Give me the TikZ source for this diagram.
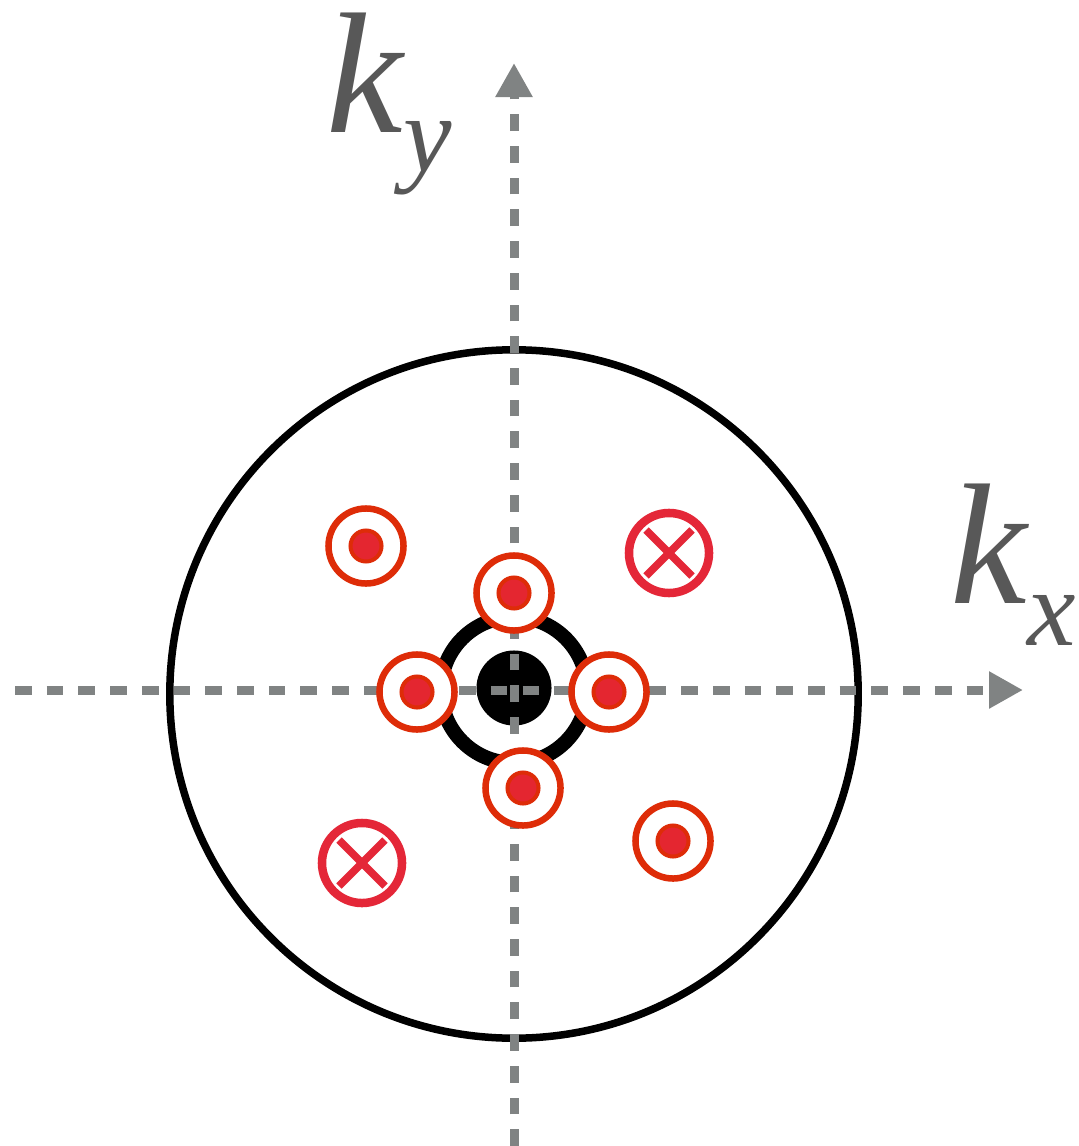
\documentclass[tikz,border=0pt]{standalone}
\usepackage{fontspec}
\setmainfont{Liberation Serif}
\usetikzlibrary{arrows.meta}
\definecolor{ringred}{RGB}{222,44,8}
\definecolor{dotred}{RGB}{228,38,48}
\definecolor{crossred}{RGB}{228,39,56}
\definecolor{axisgray}{RGB}{128,131,131}
\definecolor{labelgray}{RGB}{88,88,88}
\tikzset{
  axis/.style={draw=axisgray, line width=0.09cm, dash pattern=on 0.167cm off 0.15cm,
    -{Triangle[length=0.34cm,width=0.35cm,fill=axisgray,sep=0pt]}},
  ring/.style={circle, draw=ringred, fill=white, line width=0.065cm, minimum size=0.75cm, inner sep=0pt},
  reddot/.style={circle, draw=ringred, fill=dotred, line width=0.04cm, minimum size=0.31cm, inner sep=0pt},
  crossring/.style={circle, draw=crossred, fill=white, line width=0.085cm, minimum size=0.8cm, inner sep=0pt},
  crossline/.style={draw=crossred, line width=0.075cm},
  label/.style={text=labelgray, inner sep=0pt, anchor=base west},
}
\newcommand{\klab}[2]{\fontsize{49}{49}\selectfont\itshape k\raisebox{-#2}{\fontsize{31}{31}\selectfont #1}}
\begin{document}
\begin{tikzpicture}[x=0.01cm,y=-0.01cm]
\useasboundingbox (0,0) rectangle (1078,1146);
% big circle
\node[circle, draw=black, line width=0.075cm, minimum size=6.88cm, inner sep=0pt] (big) at (514,694) {};
% inner ring and core
\node[circle, draw=black, line width=0.145cm, minimum size=1.46cm, inner sep=0pt] (inner) at (514,690) {};
\node[circle, fill=black, minimum size=0.75cm, inner sep=0pt] (core) at (514,688) {};
% axes
\coordinate (xs) at (15,690);
\coordinate (xe) at (1023,690);
\coordinate (ys) at (514,1146);
\coordinate (ye) at (514,63);
\draw[axis] (xs) -- (xe);
\draw[axis] (ys) -- (ye);
% dot rings
\foreach \n/\p in {t/{(514,593)}, l/{(417,692)}, r/{(609,692)}, b/{(523,788)}, ul/{(366,546)}, lr/{(673,841)}}{
  \node[ring] (\n) at \p {};
  \node[reddot] (\n d) at (\n) {};
}
% cross rings
\node[crossring] (ur) at (669,553) {};
\draw[crossline] ([shift={(-23,-23)}]ur.center) -- ([shift={(23,23)}]ur.center);
\draw[crossline] ([shift={(-23,23)}]ur.center) -- ([shift={(23,-23)}]ur.center);
\node[crossring] (ll) at (362,863) {};
\draw[crossline] ([shift={(-23,-23)}]ll.center) -- ([shift={(23,23)}]ll.center);
\draw[crossline] ([shift={(-23,23)}]ll.center) -- ([shift={(23,-23)}]ll.center);
% labels
\node[label] (ky) at (326,133) {\klab{y}{11pt}};
\node[label] (kx) at (950,603) {\klab{x}{12pt}};
\end{tikzpicture}
\end{document}
